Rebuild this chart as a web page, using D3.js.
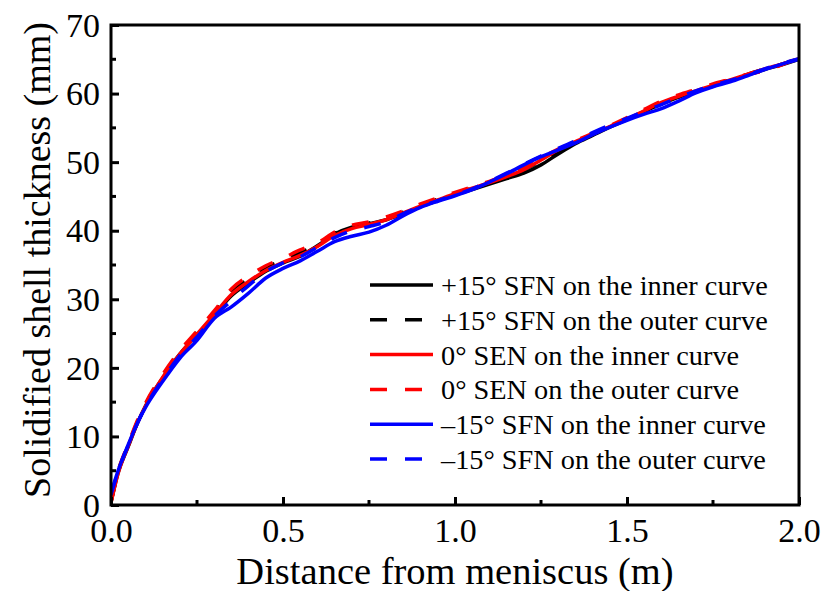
<!DOCTYPE html>
<html>
<head>
<meta charset="utf-8">
<script src="https://cdn.jsdelivr.net/npm/d3@7"></script>
<style>
  html, body { margin: 0; padding: 0; background: #fff; }
  svg { display: block; }
</style>
</head>
<body>
<svg id="chart" width="824" height="591"></svg>
<script>
// ---- data ----
const distance = [0, 0.02, 0.05, 0.08, 0.1, 0.15, 0.2, 0.25, 0.3, 0.35, 0.4, 0.45, 0.5, 0.55, 0.6, 0.65, 0.7, 0.75, 0.8, 0.85, 0.9, 0.95, 1.0, 1.05, 1.1, 1.15, 1.2, 1.25, 1.3, 1.35, 1.4, 1.45, 1.5, 1.55, 1.6, 1.65, 1.7, 1.75, 1.8, 1.85, 1.9, 1.95, 2.0];
const plus15Inner  = [0.4, 4.6, 8.5, 12.3, 14.4, 18.5, 22.0, 24.8, 27.6, 30.5, 32.4, 34.1, 35.3, 36.3, 37.8, 39.5, 40.5, 41.0, 41.6, 42.5, 43.5, 44.4, 45.2, 46.0, 46.8, 47.6, 48.4, 49.6, 51.2, 52.7, 53.9, 55.1, 56.2, 57.4, 58.5, 59.5, 60.3, 61.1, 61.9, 62.7, 63.5, 64.2, 65.0];
const plus15Outer  = [0.5, 4.7, 8.7, 12.5, 14.6, 18.8, 22.3, 25.2, 28.0, 31.0, 33.0, 34.6, 35.7, 36.8, 38.0, 39.6, 40.6, 41.1, 41.8, 42.7, 43.7, 44.6, 45.4, 46.2, 47.0, 47.9, 48.9, 50.2, 51.6, 52.9, 54.0, 55.2, 56.3, 57.5, 58.6, 59.5, 60.4, 61.2, 62.0, 62.8, 63.6, 64.3, 65.1];
const zeroInner    = [0.3, 4.5, 8.6, 12.3, 14.4, 18.6, 22.0, 24.9, 27.8, 30.7, 32.6, 34.2, 35.4, 36.4, 37.7, 39.3, 40.3, 40.9, 41.6, 42.6, 43.6, 44.5, 45.4, 46.2, 47.0, 47.9, 48.9, 50.3, 51.8, 53.0, 54.1, 55.2, 56.3, 57.5, 58.7, 59.6, 60.4, 61.2, 62.0, 62.8, 63.6, 64.3, 65.1];
const zeroOuter    = [0.5, 4.8, 8.9, 12.7, 14.8, 19.0, 22.5, 25.4, 28.3, 31.5, 33.4, 34.9, 36.0, 37.2, 38.2, 39.8, 40.8, 41.3, 42.0, 42.9, 43.9, 44.8, 45.6, 46.4, 47.2, 48.1, 49.2, 50.6, 51.9, 53.1, 54.2, 55.3, 56.5, 57.7, 58.9, 59.8, 60.6, 61.4, 62.1, 62.8, 63.3, 64.2, 65.2];
const minus15Inner = [1.7, 4.9, 8.8, 12.3, 14.2, 18.0, 21.4, 24.0, 27.2, 28.9, 30.9, 33.1, 34.5, 35.6, 37.0, 38.4, 39.2, 39.8, 40.8, 42.2, 43.4, 44.3, 45.1, 46.0, 47.1, 48.3, 49.6, 50.8, 51.8, 52.8, 54.0, 55.1, 56.1, 57.0, 57.8, 58.9, 60.1, 61.0, 61.7, 62.6, 63.5, 64.3, 65.0];
const minus15Outer = [1.5, 4.8, 8.7, 12.3, 14.3, 18.3, 21.8, 24.5, 27.5, 29.8, 32.0, 34.0, 35.3, 36.2, 37.6, 39.0, 40.0, 40.6, 41.3, 42.5, 43.5, 44.4, 45.2, 46.1, 47.2, 48.4, 49.7, 50.9, 52.0, 53.1, 54.3, 55.4, 56.4, 57.4, 58.4, 59.4, 60.4, 61.2, 61.9, 62.7, 63.6, 64.4, 65.1];

const seriesNames = ["+15° SFN on the inner curve", "+15° SFN on the outer curve", "0° SEN on the inner curve", "0° SEN on the outer curve", "\u201315° SFN on the inner curve", "\u201315° SFN on the outer curve"];
const seriesValues = [plus15Inner, plus15Outer, zeroInner, zeroOuter, minus15Inner, minus15Outer];
const seriesColors = ["#000000", "#000000", "#ff0000", "#ff0000", "#0000ff", "#0000ff"];
const seriesDashed = [false, true, false, true, false, true];

const xTicks = [0, 0.5, 1.0, 1.5, 2.0];
const xMinorTicks = [0.25, 0.75, 1.25, 1.75];
const yTicks = [0, 10, 20, 30, 40, 50, 60, 70];
const yMinorTicks = [5, 15, 25, 35, 45, 55, 65];
const xLabel = "Distance from meniscus (m)";
const yLabel = "Solidified shell thickness (mm)";

// ---- layout ----
const FONT = '"Liberation Serif", "Times New Roman", Times, serif';
const L = 111, R = 799, T = 25, B = 505;
const svg = d3.select("#chart");
const x = d3.scaleLinear().domain([0, 2]).range([L, R]);
const y = d3.scaleLinear().domain([0, 70]).range([B, T]);

svg.append("defs").append("clipPath").attr("id", "clip")
  .append("rect").attr("x", L).attr("y", T - 2).attr("width", R - L + 2).attr("height", B - T + 2);

// lines
const line = d3.line().curve(d3.curveMonotoneX);
const plot = svg.append("g").attr("clip-path", "url(#clip)");
seriesValues.forEach((vals, i) => {
  const pts = distance.map((d, j) => [x(d), y(vals[j])]);
  plot.append("path")
    .attr("d", line(pts))
    .attr("fill", "none")
    .attr("stroke", seriesColors[i])
    .attr("stroke-width", 3.5)
    .attr("stroke-linejoin", "round")
    .attr("stroke-dasharray", seriesDashed[i] ? "17,18" : null);
});

// axes
const xAxis = svg.append("g").attr("transform", `translate(0,${B})`)
  .call(d3.axisBottom(x).tickValues(xTicks).tickFormat(d3.format(".1f")).tickSizeInner(-8).tickSizeOuter(0).tickPadding(13));
const yAxis = svg.append("g").attr("transform", `translate(${L},0)`)
  .call(d3.axisLeft(y).tickValues(yTicks).tickFormat(d3.format("d")).tickSizeInner(-8).tickSizeOuter(0).tickPadding(11));
[xAxis, yAxis].forEach(g => {
  g.attr("font-family", FONT);
  g.select(".domain").remove();
  g.selectAll(".tick line").attr("stroke", "#000").attr("stroke-width", 3);
  g.selectAll(".tick text").attr("fill", "#000").attr("font-size", 34).attr("font-family", FONT);
});
xAxis.selectAll(".tick text").attr("dy", "0.71em");
yAxis.selectAll(".tick text").attr("dy", "0.33em");

// minor ticks
svg.append("g").selectAll("line").data(xMinorTicks).join("line")
  .attr("x1", d => x(d)).attr("x2", d => x(d)).attr("y1", B).attr("y2", B - 5)
  .attr("stroke", "#000").attr("stroke-width", 3);
svg.append("g").selectAll("line").data(yMinorTicks).join("line")
  .attr("x1", L).attr("x2", L + 5).attr("y1", d => y(d)).attr("y2", d => y(d))
  .attr("stroke", "#000").attr("stroke-width", 3);

// frame
svg.append("rect").attr("x", L).attr("y", T).attr("width", R - L).attr("height", B - T)
  .attr("fill", "none").attr("stroke", "#000").attr("stroke-width", 3);

// axis titles
svg.append("text").attr("x", 455).attr("y", 584).attr("text-anchor", "middle")
  .attr("font-family", FONT).attr("font-size", 38.5).attr("fill", "#000").text(xLabel);
svg.append("text").attr("transform", `translate(50,260) rotate(-90)`).attr("text-anchor", "middle")
  .attr("font-family", FONT).attr("font-size", 38).attr("fill", "#000").text(yLabel);

// legend
const lg = svg.append("g");
seriesNames.forEach((name, i) => {
  const cy = 285 + i * 34.8;
  lg.append("line").attr("x1", 370).attr("x2", 433).attr("y1", cy).attr("y2", cy)
    .attr("stroke", seriesColors[i]).attr("stroke-width", 3.5)
    .attr("stroke-dasharray", seriesDashed[i] ? "17,18" : null);
  lg.append("text").attr("x", 441).attr("y", cy).attr("dy", "0.35em")
    .attr("font-family", FONT).attr("font-size", 28.3).attr("fill", "#000").text(name);
});
</script>
</body>
</html>
